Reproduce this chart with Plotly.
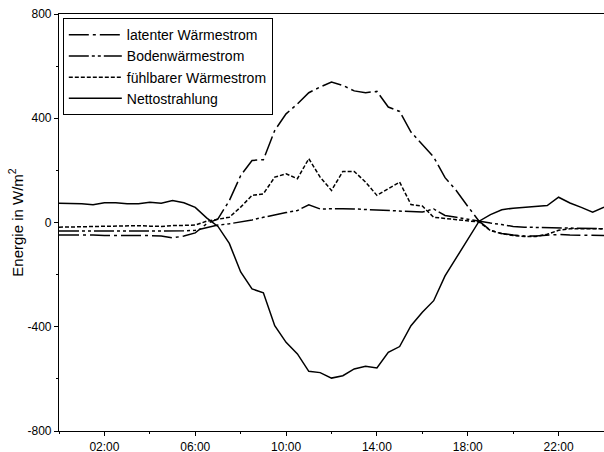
import plotly.graph_objects as go

hours = [i * 0.5 for i in range(49)]
tick_vals = [2, 6, 10, 14, 18, 22]
tick_text = ["02:00", "06:00", "10:00", "14:00", "18:00", "22:00"]
y_tick_vals = [-800, -400, 0, 400, 800]
y_tick_text = ["-800", "-400", "0", "400", "800"]

netto = [74, 73, 72, 68, 76, 76, 72, 72, 78, 74, 84, 76, 58, 18, -15, -80,
         -190, -255, -270, -396, -460, -504, -571, -576, -597, -588, -562, -552,
         -558, -498, -476, -396, -344, -300, -205, -135, -65, 5, 30, 49,
         55, 59, 62, 65, 97, 75, 58, 40, 59]

latent = [-48, -48, -47, -48, -50, -50, -48, -48, -50, -52, -59, -52, -40, -5, 14, 84,
          180, 238, 241, 353, 417, 455, 498, 520, 539, 526, 505, 498,
          503, 443, 426, 347, 300, 251, 172, 122, 62, 5, -30, -42,
          -48, -52, -52, -48, -46, -48, -48, -50, -50]

fuehlbar = [-18, -17, -17, -17, -15, -15, -12, -12, -14, -15, -12, -12, -10, 5, 12, 20,
            59, 104, 110, 174, 187, 168, 245, 174, 123, 196, 196, 155,
            104, 129, 155, 69, 63, 20, 15, 10, 5, 2, -31, -43,
            -50, -54, -54, -45, -30, -24, -24, -24, -24]

boden = [-33, -33, -32, -33, -33, -32, -33, -33, -32, -33, -33, -32, -30, -20, -10, -5,
         2, 10, 20, 30, 38, 46, 68, 52, 53, 53, 52, 50,
         47, 45, 42, 40, 40, 52, 27, 20, 12, 5, -2, -8,
         -15, -18, -19, -20, -21, -22, -22, -23, -24]

series = [
    ("latenter Wärmestrom", latent, "20px,4px,3px,4px"),
    ("Bodenwärmestrom", boden, "20px,3px,3px,3px,3px,3px"),
    ("fühlbarer Wärmestrom", fuehlbar, "4px,2px"),
    ("Nettostrahlung", netto, "solid"),
]

fig = go.Figure()
for name, vals, dash in series:
    fig.add_trace(go.Scatter(x=hours, y=vals, name=name, mode="lines",
                             line=dict(color="black", width=1.5, dash=dash)))

font = "Arial, Liberation Sans, sans-serif"
fig.update_layout(
    width=604, height=452,
    margin=dict(l=59, r=0, t=14, b=21, autoexpand=False),
    paper_bgcolor="white", plot_bgcolor="white",
    font=dict(family=font, size=12, color="black"),
    showlegend=True,
    legend=dict(x=0.007, y=0.99, xanchor="left", yanchor="top",
                bgcolor="white", bordercolor="black", borderwidth=1,
                font=dict(size=14, family=font), itemwidth=53,
                tracegroupgap=0),
)
fig.update_xaxes(range=[0, 24], tickmode="array", tickvals=tick_vals, ticktext=tick_text,
                 ticks="outside", ticklen=4, tickcolor="black",
                 showline=True, linecolor="black", linewidth=1.2, mirror=True,
                 showgrid=False, zeroline=False,
                 minor=dict(tick0=0, dtick=4, ticks="outside", ticklen=2, tickcolor="black"),
                 tickfont=dict(size=12))
fig.update_yaxes(range=[-800, 800], tickmode="array", tickvals=y_tick_vals, ticktext=y_tick_text,
                 ticks="outside", ticklen=4, tickcolor="black",
                 showline=True, linecolor="black", linewidth=1.2,
                 showgrid=False, zeroline=False,
                 minor=dict(tick0=-800, dtick=200, ticks="outside", ticklen=2, tickcolor="black"),
                 tickfont=dict(size=12),
                 title=dict(text="Energie in W/m<sup>2</sup>", font=dict(size=15), standoff=0))

fig.write_html("out.html", config={"displayModeBar": False},
               post_script="document.body.style.margin='0';document.body.style.overflow='hidden';")
